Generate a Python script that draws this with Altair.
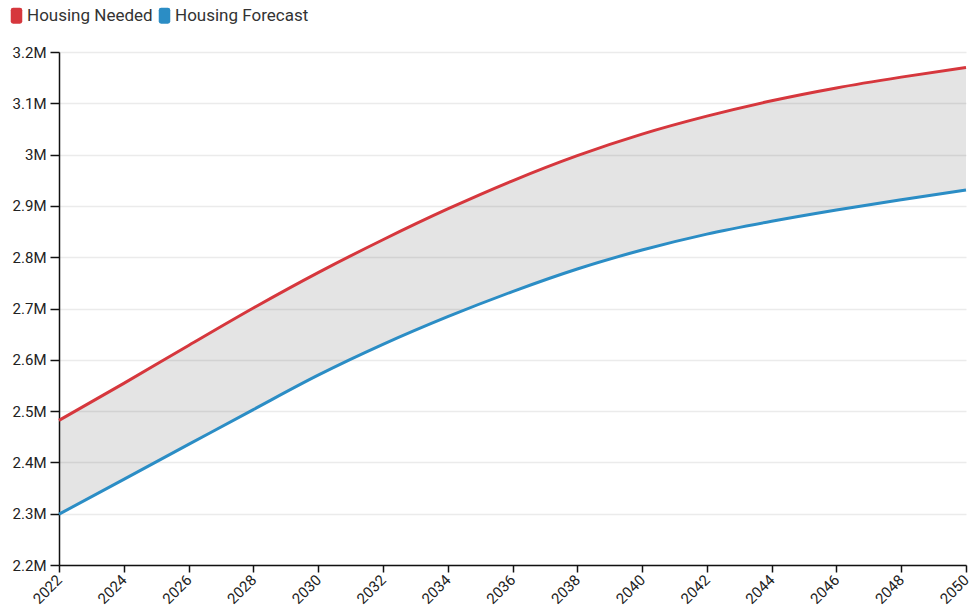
import altair as alt
import pandas as pd

# Projected housing stock (number of homes), every second year
years = [2022, 2024, 2026, 2028, 2030, 2032, 2034, 2036, 2038, 2040, 2042, 2044, 2046, 2048, 2050]
housing_needed = [2482000, 2554000, 2628000, 2701000, 2770000, 2834000, 2894000, 2949000,
                  2998000, 3040000, 3075000, 3105000, 3130000, 3151000, 3170000]
housing_forecast = [2299000, 2367000, 2435000, 2503000, 2570000, 2630000, 2684000, 2733000,
                    2777000, 2814000, 2845000, 2870000, 2892000, 2912000, 2931000]

series_names = ["Housing Needed", "Housing Forecast"]
series_colors = ["#d6373d", "#2b8dc5"]
y_ticks = [2200000, 2300000, 2400000, 2500000, 2600000, 2700000, 2800000, 2900000,
           3000000, 3100000, 3200000]
x_ticks = list(range(2022, 2051, 2))

wide = pd.DataFrame({"year": years, "needed": housing_needed, "forecast": housing_forecast})
long = pd.concat([
    pd.DataFrame({"year": years, "value": housing_needed, "series": series_names[0]}),
    pd.DataFrame({"year": years, "value": housing_forecast, "series": series_names[1]}),
])

x_enc = alt.X(
    "year:Q",
    scale=alt.Scale(domain=[2022, 2050], nice=False, zero=False),
    axis=alt.Axis(values=x_ticks, format="d", labelAngle=-45, labelAlign="right",
                  labelBaseline="middle", grid=False, title=None, labelPadding=5,
                  tickSize=7, labelFontSize=15),
)
y_scale = alt.Scale(domain=[2200000, 3200000], nice=False, zero=False)
color_scale = alt.Scale(domain=series_names, range=series_colors)

# shaded gap between need and forecast
gap = alt.Chart(wide).mark_area(
    color="#000000", opacity=0.105, interpolate="monotone"
).encode(
    x=x_enc,
    y=alt.Y("needed:Q", scale=y_scale,
            axis=alt.Axis(values=y_ticks, format="~s", title=None, grid=True,
                          tickSize=9, labelPadding=4, labelFontSize=15)),
    y2="forecast:Q",
)

lines = alt.Chart(long).mark_line(strokeWidth=3, interpolate="monotone").encode(
    x=x_enc,
    y=alt.Y("value:Q", scale=y_scale),
    color=alt.Color("series:N", scale=color_scale, sort=series_names, legend=None),
)

rounded_box = ("M -0.42,-1 L 0.42,-1 Q 0.72,-1 0.72,-0.7 L 0.72,0.7 Q 0.72,1 0.42,1 "
               "L -0.42,1 Q -0.72,1 -0.72,0.7 L -0.72,-0.7 Q -0.72,-1 -0.42,-1 Z")

# invisible points that carry the filled legend swatches
keys = alt.Chart(long).mark_point(filled=True, size=0, opacity=0).encode(
    x=x_enc,
    y=alt.Y("value:Q", scale=y_scale),
    color=alt.Color(
        "series:N",
        scale=color_scale,
        sort=series_names,
        legend=alt.Legend(
            title=None, orient="none", direction="horizontal",
            legendX=-51, legendY=-45,
            symbolType=rounded_box, symbolSize=256, symbolStrokeWidth=0,
            symbolOpacity=1,
            labelFont="Roboto", labelFontSize=17, labelColor="#333333",
            labelOffset=2, columnPadding=3, padding=0,
        ),
    ),
)

chart = (
    alt.layer(gap, lines, keys)
    .resolve_scale(color="independent")
    .properties(
        width=907, height=513,
        autosize=alt.AutoSizeParams(type="none"),
        padding={"left": 59, "top": 52, "right": 8, "bottom": 46},
    )
    .configure_view(stroke=None)
    .configure_axis(
        labelFont="Roboto", labelColor="#222222",
        domainColor="#111111", domainWidth=1.5,
        tickColor="#111111", tickWidth=1.5,
        gridColor="#ebebeb", gridWidth=1.5,
    )
)

chart.save("out.html", embed_options={"renderer": "svg", "actions": False})
